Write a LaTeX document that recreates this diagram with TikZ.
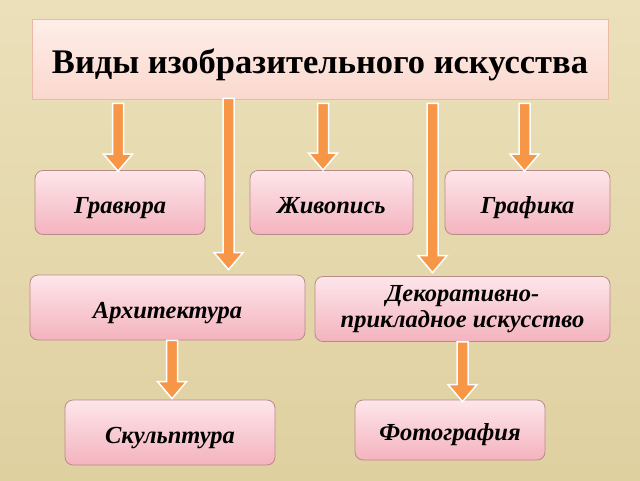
\documentclass[tikz,border=0pt]{standalone}
\usepackage{fontspec}
\setmainfont{Liberation Serif}
\usetikzlibrary{calc}
\definecolor{bgA}{HTML}{EBE0BA}
\definecolor{bgB}{HTML}{DFD0A0}
\definecolor{ttop}{HTML}{FEEEE8}
\definecolor{tbot}{HTML}{FAD8CE}
\definecolor{tline}{HTML}{EBB9A5}
\definecolor{btop}{HTML}{FDE6EA}
\definecolor{bbot}{HTML}{F4B3BE}
\definecolor{bline}{HTML}{B98A8A}
\definecolor{arrfill}{HTML}{F79646}
\tikzset{
  titlebox/.style={draw=tline, line width=0.8pt, top color=ttop, bottom color=tbot,
    minimum width=576pt, minimum height=80pt, inner sep=0pt, text height=30pt, text depth=2pt,
    font=\fontsize{34.5}{38}\selectfont\bfseries},
  catbox/.style={draw=bline, line width=0.8pt, rounded corners=8pt, top color=btop, bottom color=bbot,
    inner sep=0pt, align=center, font=\fontsize{24.5}{26}\selectfont\bfseries\itshape},
  oneline/.style={text height=22pt, text depth=1pt},
  blockarrow/.style={fill=arrfill, draw=white, line width=1.5pt, line join=miter}
}
\newcommand\blockarr[2]{%
  \draw[blockarrow] let \p1=(#1), \p2=(#2) in
    (\x1-5.5pt,\y1) -- (\x1-5.5pt,\y2+17pt) -- (\x1-14.5pt,\y2+17pt) -- (\x1,\y2)
    -- (\x1+14.5pt,\y2+17pt) -- (\x1+5.5pt,\y2+17pt) -- (\x1+5.5pt,\y1) -- cycle;}
\begin{document}
\begin{tikzpicture}[x=1pt,y=-1pt]
\fill[top color=bgA, bottom color=bgB] (0,0) rectangle (640,480);
\useasboundingbox (0,0) rectangle (640,480);

\node[titlebox] (title) at (320,59) {Виды изобразительного искусства};

\node[catbox, oneline, minimum width=170pt, minimum height=64pt] (grav) at (120,202.5) {Гравюра};
\node[catbox, oneline, minimum width=163pt, minimum height=64pt] (zhiv) at (331.5,202.5) {Живопись};
\node[catbox, oneline, minimum width=165pt, minimum height=64pt] (graf) at (527.5,202.5) {Графика};
\node[catbox, oneline, minimum width=275pt, minimum height=65pt] (arch) at (167.5,307.5) {Архитектура};
\node[catbox, minimum width=295pt, minimum height=65pt] (deco) at (462.5,309) {Декоративно-\\прикладное искусство};
\node[catbox, oneline, minimum width=210pt, minimum height=65pt] (skul) at (170,432.5) {Скульптура};
\node[catbox, oneline, minimum width=190pt, minimum height=60pt] (foto) at (450,430) {Фотография};

\coordinate (xa) at (118,0);
\coordinate (xb) at (228.5,0);
\coordinate (xc) at (323,0);
\coordinate (xd) at (432.5,0);
\coordinate (xe) at (524.5,0);
\coordinate (xf) at (172,0);
\coordinate (xg) at (462.5,0);

\blockarr{$(title.south -| xa)+(0,4)$}{$(grav.north -| xa)+(0,1)$}
\blockarr{$(title.south -| xb)+(0,-1)$}{$(arch.north -| xb)+(0,-5)$}
\blockarr{$(title.south -| xc)+(0,4)$}{$(zhiv.north -| xc)+(0,0)$}
\blockarr{$(title.south -| xd)+(0,4)$}{$(deco.north -| xd)+(0,-3.5)$}
\blockarr{$(title.south -| xe)+(0,4)$}{$(graf.north -| xe)+(0,1)$}
\blockarr{$(arch.south -| xf)+(0,0)$}{$(skul.north -| xf)+(0,-1)$}
\blockarr{$(deco.south -| xg)+(0,0)$}{$(foto.north -| xg)+(0,2)$}
\end{tikzpicture}
\end{document}
